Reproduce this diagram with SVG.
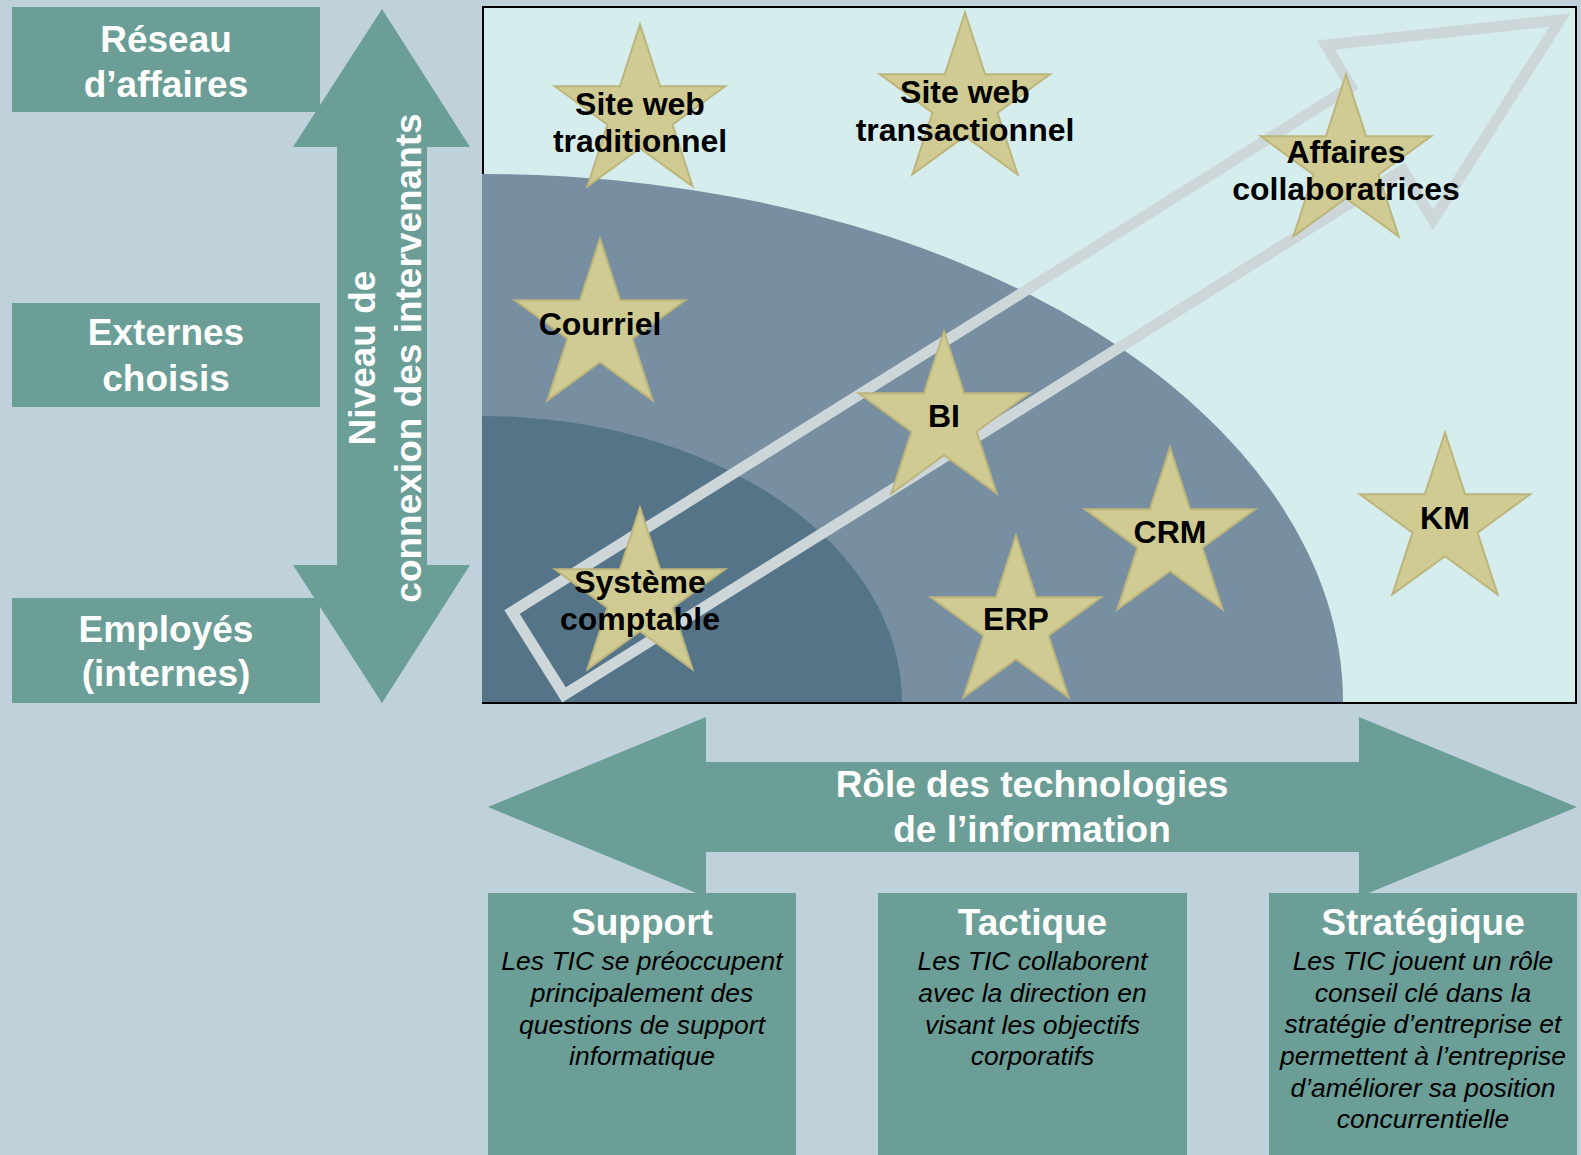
<svg xmlns="http://www.w3.org/2000/svg" xmlns:xlink="http://www.w3.org/1999/xlink" width="1581" height="1155" viewBox="0 0 1581 1155">
<style>
.bg{fill:#BFD1DA}
.teal{fill:#6A9E96}
.lbl{font-family:"Liberation Sans",Arial,sans-serif;font-weight:bold;font-size:37px;fill:#FFFFFF;text-anchor:middle}
.st{font-family:"Liberation Sans",Arial,sans-serif;font-weight:bold;font-size:32px;fill:#000000;text-anchor:middle}
.desc{font-family:"Liberation Sans",Arial,sans-serif;font-style:italic;font-size:26.5px;fill:#000000;text-anchor:middle}
.flow{fill:none;stroke:#CDD7DA;stroke-width:11;stroke-linejoin:miter}
</style>
<defs>
<polygon id="star" points="0,-89.5 20.1,-27.7 85.1,-27.7 32.5,10.6 52.6,72.4 0,34.2 -52.6,72.4 -32.5,10.6 -85.1,-27.7 -20.1,-27.7" fill="#CFCB93" stroke="#BDB57C" stroke-width="2" stroke-linejoin="miter"/>
</defs>
<rect class="bg" x="0" y="0" width="1581" height="1155"/>

<g id="chart">
<rect x="483" y="7" width="1093" height="696" fill="#D5EDED" stroke="#000000" stroke-width="2"/>
<path d="M482,702 L482,174 A861,528 0 0 1 1343,702 Z" fill="#778FA0"/>
<path d="M482,702 L482,416 A420,286 0 0 1 902,702 Z" fill="#567488"/>
</g>

<g id="connectors">
<polygon class="flow" points="512,612 1351,87 1326,45 1560,20 1433,220 1403,170 564,695"/>
</g>

<g id="axis-vertical">
<polygon class="teal" points="382,9 470,147 427,147 427,565 470,565 382,703 293,565 337,565 337,147 293,147"/>
<text class="lbl" transform="translate(375,358) rotate(-90)">Niveau de</text>
<text class="lbl" transform="translate(421,358) rotate(-90)">connexion des intervenants</text>
</g>

<g id="axis-horizontal">
<polygon class="teal" points="488,807 706,717 706,762 1359,762 1359,717 1577,807 1359,897 1359,852 706,852 706,897"/>
<text class="lbl" x="1032" y="797">Rôle des technologies</text>
<text class="lbl" x="1032" y="842">de l’information</text>
</g>

<g id="label-reseau">
<rect class="teal" x="12" y="7" width="308" height="105"/>
<text class="lbl" x="166" y="52">Réseau</text>
<text class="lbl" x="166" y="97">d’affaires</text>
</g>
<g id="label-externes">
<rect class="teal" x="12" y="303" width="308" height="104"/>
<text class="lbl" x="166" y="345">Externes</text>
<text class="lbl" x="166" y="391">choisis</text>
</g>
<g id="label-employes">
<rect class="teal" x="12" y="598" width="308" height="105"/>
<text class="lbl" x="166" y="642">Employés</text>
<text class="lbl" x="166" y="686">(internes)</text>
</g>

<g id="star-site-trad">
<use xlink:href="#star" href="#star" x="640" y="114"/>
<text class="st" x="640" y="115">Site web</text>
<text class="st" x="640" y="152">traditionnel</text>
</g>
<g id="star-site-trans">
<use xlink:href="#star" href="#star" x="965" y="102"/>
<text class="st" x="965" y="103">Site web</text>
<text class="st" x="965" y="141">transactionnel</text>
</g>
<g id="star-affaires">
<use xlink:href="#star" href="#star" x="1346" y="164"/>
<text class="st" x="1346" y="163">Affaires</text>
<text class="st" x="1346" y="200">collaboratrices</text>
</g>
<g id="star-courriel">
<use xlink:href="#star" href="#star" x="600" y="328"/>
<text class="st" x="600" y="335">Courriel</text>
</g>
<g id="star-bi">
<use xlink:href="#star" href="#star" x="944" y="421"/>
<text class="st" x="944" y="427">BI</text>
</g>
<g id="star-crm">
<use xlink:href="#star" href="#star" x="1170" y="537"/>
<text class="st" x="1170" y="543">CRM</text>
</g>
<g id="star-erp">
<use xlink:href="#star" href="#star" x="1016" y="625"/>
<text class="st" x="1016" y="630">ERP</text>
</g>
<g id="star-km">
<use xlink:href="#star" href="#star" x="1445" y="522"/>
<text class="st" x="1445" y="529">KM</text>
</g>
<g id="star-systeme">
<use xlink:href="#star" href="#star" x="640" y="597"/>
<text class="st" x="640" y="593">Système</text>
<text class="st" x="640" y="630">comptable</text>
</g>

<g id="box-support">
<rect class="teal" x="488" y="893" width="308" height="262"/>
<text class="lbl" x="642" y="935">Support</text>
<text class="desc" x="642" y="970">Les TIC se préoccupent</text>
<text class="desc" x="642" y="1002">principalement des</text>
<text class="desc" x="642" y="1034">questions de support</text>
<text class="desc" x="642" y="1065">informatique</text>
</g>
<g id="box-tactique">
<rect class="teal" x="878" y="893" width="309" height="262"/>
<text class="lbl" x="1032.5" y="935">Tactique</text>
<text class="desc" x="1032.5" y="970">Les TIC collaborent</text>
<text class="desc" x="1032.5" y="1002">avec la direction en</text>
<text class="desc" x="1032.5" y="1034">visant les objectifs</text>
<text class="desc" x="1032.5" y="1065">corporatifs</text>
</g>
<g id="box-strategique">
<rect class="teal" x="1269" y="893" width="308" height="262"/>
<text class="lbl" x="1423" y="935">Stratégique</text>
<text class="desc" x="1423" y="970">Les TIC jouent un rôle</text>
<text class="desc" x="1423" y="1002">conseil clé dans la</text>
<text class="desc" x="1423" y="1033">stratégie d’entreprise et</text>
<text class="desc" x="1423" y="1065">permettent à l’entreprise</text>
<text class="desc" x="1423" y="1097">d’améliorer sa position</text>
<text class="desc" x="1423" y="1128">concurrentielle</text>
</g>
</svg>
